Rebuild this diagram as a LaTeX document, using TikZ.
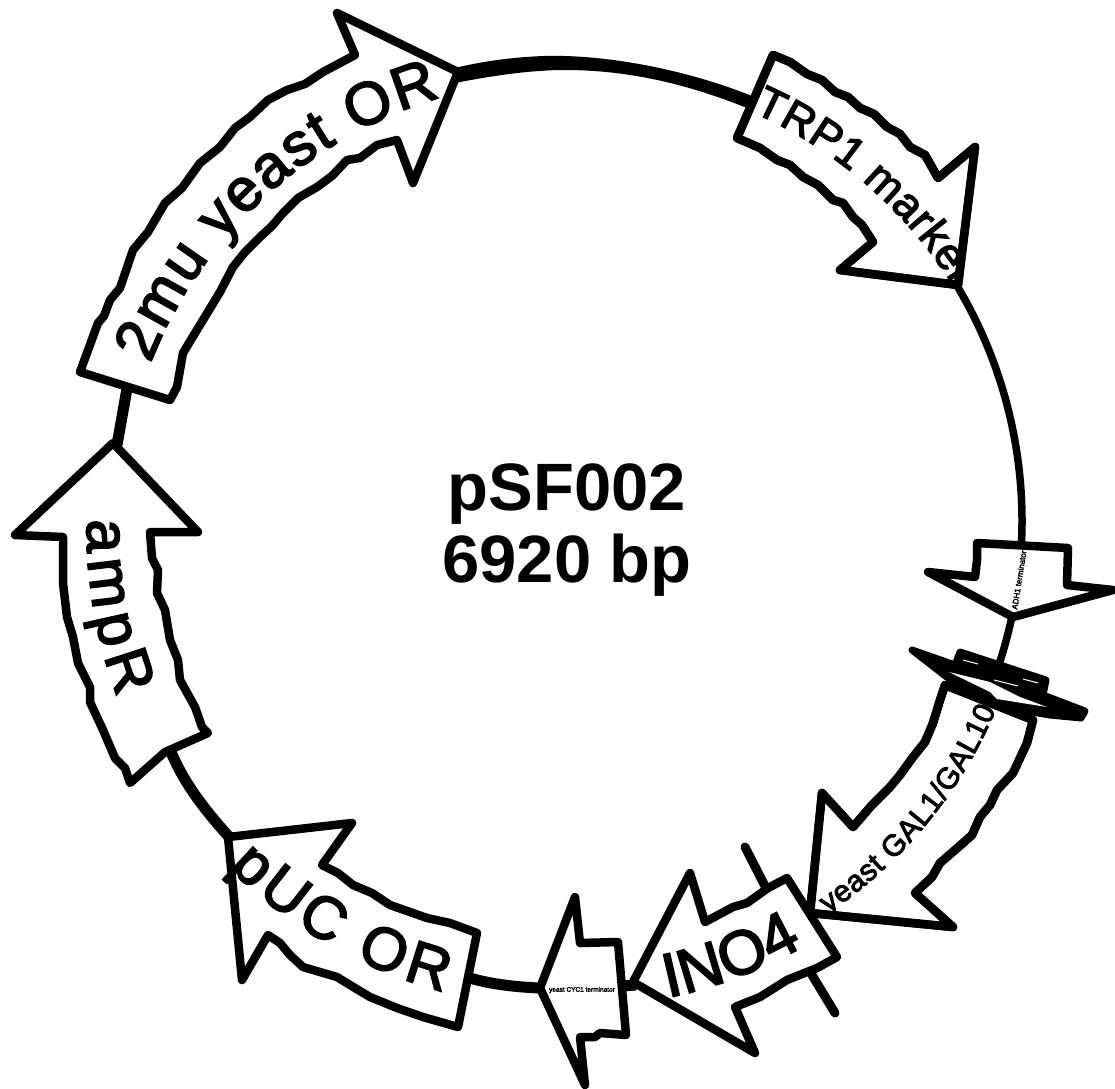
\documentclass[tikz,border=0pt]{standalone}
\usepackage{fontspec}
\setmainfont{Liberation Sans}
\newfontfamily\labelfont[FakeBold=3]{Liberation Sans}
\usetikzlibrary{calc,decorations.text}
\tikzset{
  feature/.style={draw=black,fill=white,line width=8.5pt,line join=round},
  outline/.style={draw=black,line width=8.5pt,line join=round},
  tick/.style={draw=black,line width=9pt,line cap=round},
  backbone/.style={draw=black,line width=7.5pt},
  thickline/.style={draw=black,line width=11pt},
  title/.style={font=\bfseries\fontsize{67}{72}\selectfont,align=center,text=black},
  tinylabel/.style={font=\labelfont\fontsize{#1}{#1}\selectfont,text=black,inner sep=0pt}
}
\newcommand{\arclabel}[5]{% size, radius, start, end, text
  \path[decorate,decoration={text along path,text align=fit to path,
    text={|\labelfont\fontsize{#1}{#1}\selectfont|#5}}]
    ($(tc)+(#3:#2pt)$) arc[start angle=#3,end angle=#4,radius=#2pt];}
\newcommand{\trpshape}{(773,55)--(790,62)--(807,74)--(822,80)--(835,92)--(848,97)--(860,108)--(874,114)--(887,127)--(900,134)--(910,147)--(925,155)--(938,178)--(975,147)--(958,285)--(840,270)--(873,242)--(862,225)--(853,217)--(843,203)--(833,200)--(818,185)--(803,177)--(790,165)--(777,160)--(760,148)--(737,138)--cycle}
\newcommand{\galshape}{(945,685)--(1033,720)--(1027,743)--(1020,758)--(1013,773)--(997,790)--(990,805)--(980,817)--(972,835)--(963,843)--(940,863)--(932,877)--(915,893)--(953,927)--(810,913)--(822,793)--(853,827)--(872,805)--(890,787)--(900,775)--(913,757)--(925,742)--(933,723)--(940,700)--cycle}
\begin{document}
\begin{tikzpicture}[x=1pt,y=-1pt]
\useasboundingbox (0,0) rectangle (1115,1088);
\fill[white] (0,0) rectangle (1115,1088);
\coordinate (c) at (564,521);
\coordinate (tc) at (568,528);
% backbone
\draw[backbone] ($(c)+(31:458pt)$) arc[start angle=31,end angle=-18,radius=458pt];
\fill[black] (455,68) .. controls (495,58) and (540,55) .. (565,56) .. controls (630,58) and (700,75) .. (752,96) -- (747,108) .. controls (690,85) and (630,70) .. (565,70) .. controls (530,70) and (490,76) .. (450,84) -- cycle;
\draw[thickline] (128,383) -- (117,445);
\draw[thickline] (171,752) .. controls (185,785) and (205,810) .. (230,838);
\draw[thickline] (470,978) .. controls (490,984) and (515,987) .. (540,988);
\draw[thickline] (622,986) -- (636,985);
% ticks of INO4
\draw[tick] (745,847) -- (767,890);
\draw[tick] (812,975) -- (835,1013);
% small black feature
\fill[black,line join=round,draw=black,line width=7pt] (912,650)--(955,665)--(960,652)--(1046,680)--(1043,695)--(1085,711)--(1081,718)--(1050,715)--(1020,710)--(990,702)--(948,678)--cycle;
\fill[white] (949,672)--(990,692)--(997,699)--(1047,707)--(1020,697)--(990,682)--cycle;
\draw[white,line width=1pt] (963,660)--(978,664) (994,680)--(1018,686) (1023,679)--(1038,683);
% features
\draw[feature] (80,372)--(98,323)--(104,316)--(110,300)--(120,288)--(133,250)--(148,232)--(165,203)--(182,188)--(200,163)--(220,147)--(235,128)--(250,117)--(268,100)--(287,90)--(305,84)--(323,72)--(355,55)--(337,13)--(458,72)--(413,183)--(397,140)--(377,145)--(360,158)--(347,160)--(332,176)--(317,187)--(298,198)--(283,213)--(272,226)--(260,237)--(245,252)--(233,267)--(220,292)--(203,320)--(192,338)--(183,353)--(180,370)--(177,387)--(170,400)--cycle;
\draw[feature] \trpshape;
\draw[feature] (977,543)--(1068,548)--(1067,585)--(1113,590)--(1013,617)--(928,572)--(975,577)--(977,560)--cycle;
\draw[feature] \galshape;
\draw[feature] (633,982)--(690,873)--(705,922)--(733,907)--(747,903)--(768,888)--(787,878)--(837,957)--(817,968)--(787,980)--(760,997)--(735,1007)--(755,1053)--cycle;
\draw[feature] (540,988)--(575,897)--(580,943)--(618,942)--(626,1035)--(600,1033)--(595,1037)--(580,1037)--(585,1085)--cycle;
\draw[feature] (228,837)--(352,823)--(322,865)--(338,873)--(353,885)--(372,893)--(390,905)--(410,912)--(427,918)--(450,923)--(477,933)--(458,1027)--(423,1017)--(397,1008)--(370,997)--(350,985)--(337,977)--(303,967)--(290,955)--(280,943)--(268,935)--(242,980)--cycle;
\draw[feature] (113,443)--(198,532)--(150,532)--(152,558)--(158,570)--(157,593)--(165,610)--(170,640)--(178,660)--(180,680)--(195,707)--(202,727)--(208,733)--(165,752)--(130,783)--(125,768)--(115,758)--(103,730)--(90,702)--(90,687)--(78,663)--(73,637)--(67,617)--(63,583)--(63,537)--(15,535)--cycle;
% labels
\arclabel{60}{449}{158.5}{106.5}{2mu yeast OR}
\begin{scope}
\clip \trpshape;
\arclabel{44}{455}{66}{32}{TRP1 marker}
\end{scope}
\draw[outline] \trpshape;
\arclabel{60}{481}{179}{200.6}{ampR}
\arclabel{60}{480}{225}{255}{pUC OR}
\arclabel{62}{480}{282}{298}{INO4}
\begin{scope}
\clip \galshape;
\arclabel{30}{465}{304}{337}{yeast GAL1/GAL10}
\end{scope}
\draw[outline] \galshape;
\node[tinylabel=8,rotate=81] (adh) at (1019,580) {ADH1 terminator};
\node[tinylabel=6.5] (cyc) at (582,990) {yeast CYC1 terminator};
\node[title] (name) at (567,530) {pSF002\\6920 bp};
\end{tikzpicture}
\end{document}
